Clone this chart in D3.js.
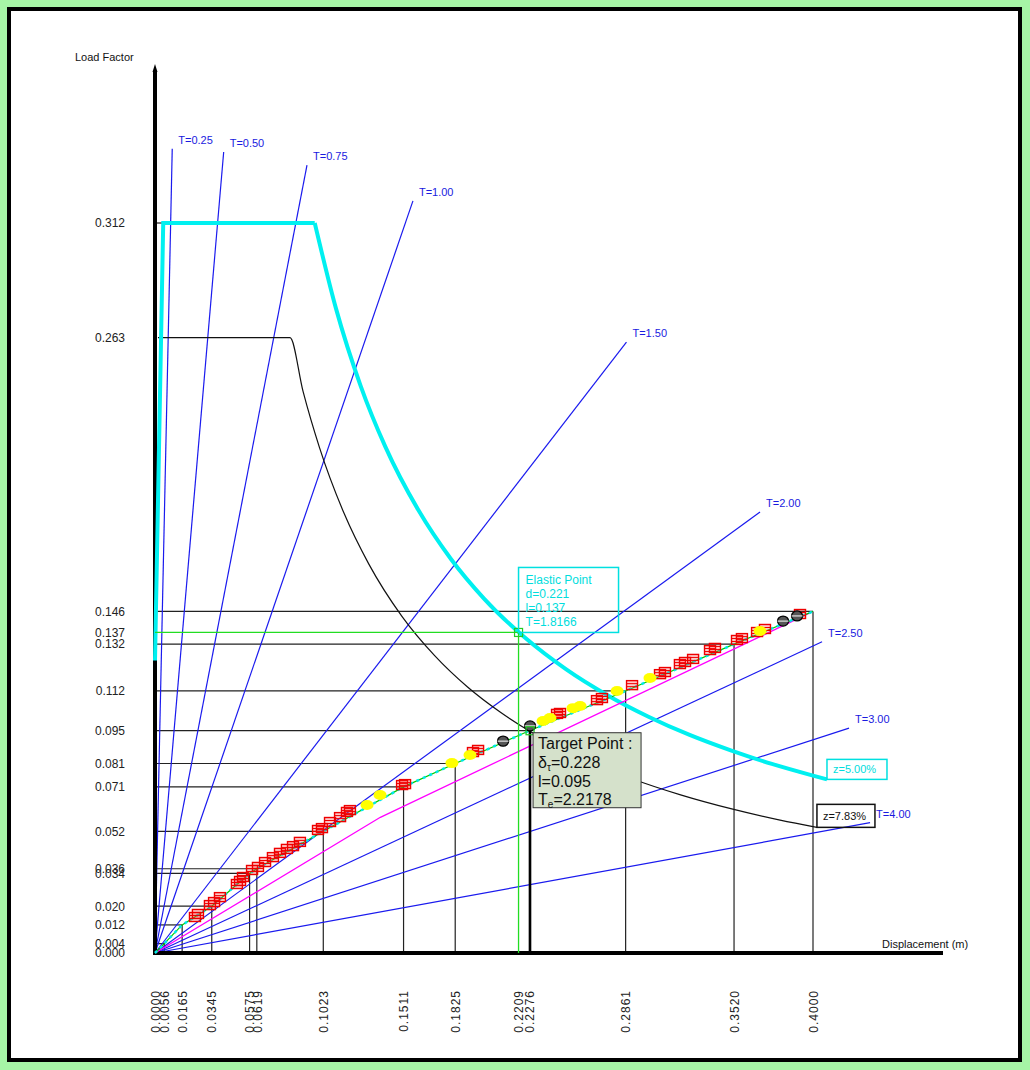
<!DOCTYPE html>
<html>
<head>
<meta charset="utf-8">
<script src="https://cdn.jsdelivr.net/npm/d3@7"></script>
<style>
  html, body { margin: 0; padding: 0; background: #a6f5a6; }
  svg { display: block; }
  text { font-family: "Liberation Sans", Arial, sans-serif; }
</style>
</head>
<body>
<svg id="chart" width="1030" height="1070"></svg>
<script>
// ---- Axis ticks -------------------------------------------------------
const xTicks = [0.0000, 0.0056, 0.0165, 0.0345, 0.0575, 0.0619, 0.1023, 0.1511, 0.1825, 0.2209, 0.2276, 0.2861, 0.3520, 0.4000];
const xTickLabels = ["0.0000", "0.0056", "0.0165", "0.0345", "0.0575", "0.0619", "0.1023", "0.1511", "0.1825", "0.2209", "0.2276", "0.2861", "0.3520", "0.4000"];
const yTicks = [0.000, 0.004, 0.012, 0.020, 0.034, 0.036, 0.052, 0.071, 0.081, 0.095, 0.112, 0.132, 0.137, 0.146, 0.263, 0.312];
const yTickLabels = ["0.000", "0.004", "0.012", "0.020", "0.034", "0.036", "0.052", "0.071", "0.081", "0.095", "0.112", "0.132", "0.137", "0.146", "0.263", "0.312"];

// ---- Capacity curve steps (displacement, load factor) -----------------
const stepD = [0.0056, 0.0165, 0.0345, 0.0575, 0.0619, 0.1023, 0.1511, 0.1825, 0.2276, 0.2861, 0.3520, 0.4000];
const stepL = [0.004, 0.012, 0.020, 0.034, 0.036, 0.052, 0.071, 0.081, 0.095, 0.112, 0.132, 0.146];
const capD = [0, 0.0056, 0.0165, 0.0345, 0.0575, 0.0619, 0.1023, 0.1511, 0.1825, 0.2276, 0.2861, 0.3520, 0.4000];
const capL = [0, 0.004, 0.012, 0.020, 0.034, 0.036, 0.052, 0.071, 0.081, 0.095, 0.112, 0.132, 0.146];

// Bilinear idealisation of the capacity curve
const bilinD = [0, 0.137, 0.400];
const bilinL = [0, 0.058, 0.146];

// ---- Step markers along the capacity curve ----------------------------
const sqD = [0.0243, 0.0261, 0.0334, 0.0359, 0.0395, 0.0498, 0.0517, 0.0535, 0.0590, 0.0626, 0.0669, 0.0717, 0.0760, 0.0802, 0.0839, 0.0881, 0.0991, 0.1015, 0.1064, 0.1125, 0.1167, 0.1185, 0.1502, 0.1520, 0.1933, 0.1964, 0.2444, 0.2462, 0.2687, 0.2717, 0.2900, 0.3070, 0.3100, 0.3191, 0.3222, 0.3271, 0.3374, 0.3404, 0.3538, 0.3568, 0.3660, 0.3708, 0.3921];
const sqL = [0.0141, 0.0154, 0.0192, 0.0205, 0.0226, 0.0282, 0.0295, 0.0312, 0.0342, 0.0355, 0.0376, 0.0397, 0.0415, 0.0432, 0.0444, 0.0462, 0.0513, 0.0521, 0.0547, 0.0568, 0.0590, 0.0598, 0.0705, 0.0709, 0.0846, 0.0855, 0.1009, 0.1013, 0.1068, 0.1077, 0.1132, 0.1179, 0.1188, 0.1222, 0.1231, 0.1244, 0.1282, 0.1291, 0.1325, 0.1333, 0.1359, 0.1372, 0.1436];
const ylD = [0.1289, 0.1368, 0.1805, 0.1915, 0.2359, 0.2401, 0.2541, 0.2584, 0.2809, 0.3009, 0.3678];
const ylL = [0.0624, 0.0667, 0.0803, 0.0838, 0.0983, 0.0996, 0.1038, 0.1047, 0.1111, 0.1167, 0.1368];
const bkD = [0.2116, 0.2280, 0.3818, 0.3903];
const bkL = [0.0897, 0.0962, 0.1410, 0.1432];

// ---- Demand spectra (ADRS) --------------------------------------------
const spec5D = [0, 0.0050, 0.0971, 0.110, 0.125, 0.140, 0.160, 0.180, 0.200, 0.225, 0.250, 0.275, 0.300, 0.325, 0.350, 0.375, 0.400, 0.4085];
const spec5L = [0.125, 0.312, 0.312, 0.2755, 0.2424, 0.2164, 0.1894, 0.1683, 0.1515, 0.1347, 0.1212, 0.1102, 0.1010, 0.0932, 0.0866, 0.0808, 0.0758, 0.0742];
const spec783D = [0.0018, 0.0821, 0.090, 0.100, 0.115, 0.130, 0.150, 0.170, 0.190, 0.210, 0.230, 0.260, 0.290, 0.320, 0.350, 0.380, 0.4024];
const spec783L = [0.263, 0.263, 0.240, 0.216, 0.1878, 0.1662, 0.1440, 0.1271, 0.1137, 0.1029, 0.0939, 0.0831, 0.0745, 0.0675, 0.0617, 0.0568, 0.0537];

// ---- Constant-period radial lines -------------------------------------
const periods = [0.25, 0.50, 0.75, 1.00, 1.50, 2.00, 2.50, 3.00, 4.00];
const periodLabels = ["T=0.25", "T=0.50", "T=0.75", "T=1.00", "T=1.50", "T=2.00", "T=2.50", "T=3.00", "T=4.00"];
const periodEndD = [0.01048, 0.04175, 0.0924, 0.1568, 0.2866, 0.3678, 0.4055, 0.4219, 0.4347];
const periodFactor = 2.05;   // load factor = periodFactor * d / T^2

// ---- Performance points -----------------------------------------------
const elastic = { d: 0.221, l: 0.137, T: 1.8166 };
const target = { d: 0.228, l: 0.095, T: 2.2178 };

// ---- Scales ----------------------------------------------------------
const x = d3.scaleLinear().domain([0, 0.4]).range([155, 813]);
const y = d3.scaleLinear().domain([0, 0.312]).range([953, 223]);

const svg = d3.select("#chart");

// Frame
svg.append("rect").attr("x", 0).attr("y", 0).attr("width", 1030).attr("height", 1070).attr("fill", "#a6f5a6");
svg.append("rect").attr("x", 9).attr("y", 9).attr("width", 1011).attr("height", 1051)
  .attr("fill", "#ffffff").attr("stroke", "#000").attr("stroke-width", 4);

const g = svg.append("g");

// Step guide lines (horizontal from the load axis, vertical from the displacement axis)
const steps = stepD.map((d, i) => ({ d, l: stepL[i] }));
g.selectAll("line.h").data(steps).join("line").attr("class", "h")
  .attr("x1", x(0)).attr("x2", p => x(p.d)).attr("y1", p => y(p.l)).attr("y2", p => y(p.l))
  .attr("stroke", "#222").attr("stroke-width", 1.2);
g.selectAll("line.v").data(steps).join("line").attr("class", "v")
  .attr("x1", p => x(p.d)).attr("x2", p => x(p.d)).attr("y1", y(0)).attr("y2", p => y(p.l))
  .attr("stroke", "#222").attr("stroke-width", 1.2);
// short tick to the plateau of the 5% spectrum
g.append("line").attr("x1", x(0)).attr("x2", x(spec5D[1])).attr("y1", y(0.312)).attr("y2", y(0.312))
  .attr("stroke", "#222").attr("stroke-width", 1.2);

// Period lines
const pl = periods.map((T, i) => ({ T, label: periodLabels[i], d: periodEndD[i], l: periodFactor * periodEndD[i] / (T * T) }));
g.selectAll("line.per").data(pl).join("line").attr("class", "per")
  .attr("x1", x(0)).attr("y1", y(0)).attr("x2", p => x(p.d)).attr("y2", p => y(p.l))
  .attr("stroke", "#1a1aee").attr("stroke-width", 1.2);
g.selectAll("text.per").data(pl).join("text").attr("class", "per")
  .attr("x", p => x(p.d) + 6).attr("y", p => y(p.l) - 5)
  .attr("font-size", 11).attr("fill", "#1a1ae0").text(p => p.label);

// Axes
const yAxis = d3.axisLeft(y).tickValues(yTicks).tickFormat((v, i) => yTickLabels[i]).tickSize(0).tickPadding(30);
const ya = g.append("g").attr("transform", `translate(${x(0)},0)`).call(yAxis);
ya.select(".domain").remove();
ya.selectAll("text").attr("font-size", 12).attr("fill", "#222").attr("font-family", "Liberation Sans, Arial, sans-serif");

const xAxis = d3.axisBottom(x).tickValues(xTicks).tickFormat((v, i) => xTickLabels[i]).tickSize(0);
const xa = g.append("g").attr("transform", `translate(0,${y(0)})`).call(xAxis);
xa.select(".domain").remove();
xa.selectAll("text")
  .attr("transform", "rotate(-90)")
  .attr("x", -37).attr("y", 0).attr("dy", "0.35em")
  .attr("text-anchor", "end")
  .attr("font-size", 12).attr("letter-spacing", 1).attr("fill", "#222")
  .attr("font-family", "Liberation Sans, Arial, sans-serif");

// axis lines
g.append("line").attr("x1", x(0)).attr("x2", x(0)).attr("y1", y(0) + 2).attr("y2", 70)
  .attr("stroke", "#000").attr("stroke-width", 4);
g.append("path").attr("d", `M${x(0) - 2.5},72 L${x(0)},64 L${x(0) + 2.5},72 Z`).attr("fill", "#000");
g.append("line").attr("x1", x(0) - 2).attr("x2", 943).attr("y1", y(0)).attr("y2", y(0))
  .attr("stroke", "#000").attr("stroke-width", 4);

g.append("text").attr("x", 75).attr("y", 61).attr("font-size", 11).attr("fill", "#111").text("Load Factor");
g.append("text").attr("x", 882).attr("y", 948).attr("font-size", 11).attr("fill", "#111").text("Displacement (m)");

// Demand spectra
const line = d3.line().x(p => x(p[0])).y(p => y(p[1]));
const smooth = d3.line().x(p => x(p[0])).y(p => y(p[1])).curve(d3.curveMonotoneX);
g.append("path").datum(spec783D.map((d, i) => [d, spec783L[i]]))
  .attr("d", smooth).attr("fill", "none").attr("stroke", "#111").attr("stroke-width", 1.2);
g.append("path").datum(spec5D.slice(0, 3).map((d, i) => [d, spec5L[i]]))
  .attr("d", line).attr("fill", "none").attr("stroke", "#00f0f0").attr("stroke-width", 4);
g.append("path").datum(spec5D.slice(2).map((d, i) => [d, spec5L[i + 2]]))
  .attr("d", smooth).attr("fill", "none").attr("stroke", "#00f0f0").attr("stroke-width", 4);

// Bilinear idealisation
g.append("path").datum(bilinD.map((d, i) => [d, bilinL[i]]))
  .attr("d", line).attr("fill", "none").attr("stroke", "#ff00ff").attr("stroke-width", 1.3);

// Capacity curve
const capPts = capD.map((d, i) => [d, capL[i]]);
g.append("path").datum(capPts).attr("d", line).attr("fill", "none").attr("stroke", "#00cc00").attr("stroke-width", 1.2);
g.append("path").datum(capPts).attr("d", line).attr("fill", "none").attr("stroke", "#00e8e8")
  .attr("stroke-width", 2.5).attr("stroke-dasharray", "3,4");

// Elastic point guides
g.append("line").attr("x1", x(0)).attr("x2", x(elastic.d)).attr("y1", y(elastic.l)).attr("y2", y(elastic.l))
  .attr("stroke", "#22dd22").attr("stroke-width", 1.3);
g.append("line").attr("x1", x(elastic.d)).attr("x2", x(elastic.d)).attr("y1", y(0)).attr("y2", y(elastic.l))
  .attr("stroke", "#22dd22").attr("stroke-width", 1.3);

// Target point guide
g.append("line").attr("x1", x(target.d)).attr("x2", x(target.d)).attr("y1", y(0)).attr("y2", y(target.l))
  .attr("stroke", "#000").attr("stroke-width", 2.5);

// Markers: squares
const sq = sqD.map((d, i) => [d, sqL[i]]);
const sqG = g.selectAll("g.sq").data(sq).join("g").attr("class", "sq")
  .attr("transform", p => `translate(${x(p[0])},${y(p[1])})`);
sqG.append("rect").attr("x", -5.5).attr("y", -7.5).attr("width", 11).attr("height", 9)
  .attr("fill", "rgba(255,40,40,0.25)").attr("stroke", "#ee0000").attr("stroke-width", 1.4);
sqG.append("path").attr("d", "M-5.5,-4.5 H5.5 M-5.5,-1.5 H5.5").attr("stroke", "#ee0000").attr("stroke-width", 1);

// Markers: yellow circles
const yl = ylD.map((d, i) => [d, ylL[i]]);
g.selectAll("ellipse.yl").data(yl).join("ellipse").attr("class", "yl")
  .attr("cx", p => x(p[0])).attr("cy", p => y(p[1]) - 2).attr("rx", 6.5).attr("ry", 5)
  .attr("fill", "#ffff00");

// Markers: black circles
const bk = bkD.map((d, i) => [d, bkL[i]]);
const bkG = g.selectAll("g.bk").data(bk).join("g").attr("class", "bk")
  .attr("transform", p => `translate(${x(p[0])},${y(p[1]) - 2})`);
bkG.append("ellipse").attr("rx", 5.5).attr("ry", 5).attr("fill", "#555").attr("stroke", "#000").attr("stroke-width", 1.3);
bkG.append("path").attr("d", "M-5.5,0 H5.5").attr("stroke", "#fff").attr("stroke-width", 1);

// Point symbols
g.append("rect").attr("x", x(elastic.d) - 4).attr("y", y(elastic.l) - 4).attr("width", 8).attr("height", 8)
  .attr("fill", "none").attr("stroke", "#22cc22").attr("stroke-width", 1.2);
g.append("rect").attr("x", x(target.d) - 4).attr("y", y(target.l) - 4).attr("width", 8).attr("height", 8)
  .attr("fill", "none").attr("stroke", "#22cc22").attr("stroke-width", 1.2);

// Elastic point box
const eb = g.append("g").attr("transform", `translate(${x(elastic.d)},${y(elastic.l)})`);
eb.append("rect").attr("x", 0).attr("y", -65).attr("width", 100).attr("height", 65)
  .attr("fill", "none").attr("stroke", "#00e0e0").attr("stroke-width", 1.5);
["Elastic Point", `d=${elastic.d.toFixed(3)}`, `l=${elastic.l.toFixed(3)}`, `T=${elastic.T.toFixed(4)}`].forEach((t, i) => {
  eb.append("text").attr("x", 7).attr("y", -48 + i * 14).attr("font-size", 12).attr("fill", "#00dddd").text(t);
});

// Target point box
const tb = g.append("g").attr("transform", `translate(${x(target.d) + 3},${y(target.l) + 2})`);
tb.append("rect").attr("x", 0).attr("y", 0).attr("width", 108).attr("height", 75)
  .attr("fill", "#d5e1cb").attr("stroke", "#333").attr("stroke-width", 1);
const tf = "Liberation Serif, Times New Roman, serif";
tb.append("text").attr("x", 5).attr("y", 16).attr("font-size", 16).attr("font-family", tf).attr("fill", "#111").text("Target Point :");
const t2 = tb.append("text").attr("x", 5).attr("y", 35).attr("font-size", 16).attr("font-family", tf).attr("fill", "#111");
t2.append("tspan").text("δ");
t2.append("tspan").attr("font-size", 10).attr("dy", 3).text("τ");
t2.append("tspan").attr("dy", -3).text(`=${target.d.toFixed(3)}`);
tb.append("text").attr("x", 5).attr("y", 54).attr("font-size", 16).attr("font-family", tf).attr("fill", "#111").text(`l=${target.l.toFixed(3)}`);
const t4 = tb.append("text").attr("x", 5).attr("y", 72).attr("font-size", 16).attr("font-family", tf).attr("fill", "#111");
t4.append("tspan").text("T");
t4.append("tspan").attr("font-size", 10).attr("dy", 3).text("e");
t4.append("tspan").attr("dy", -3).text(`=${target.T.toFixed(4)}`);

// Damping labels at the spectrum ends
const e5 = [spec5D[spec5D.length - 1], spec5L[spec5L.length - 1]];
const z5 = g.append("g").attr("transform", `translate(${x(e5[0])},${y(e5[1])})`);
z5.append("rect").attr("x", 0).attr("y", -20).attr("width", 60).attr("height", 20)
  .attr("fill", "none").attr("stroke", "#00e0e0").attr("stroke-width", 1.5);
z5.append("text").attr("x", 6).attr("y", -6).attr("font-size", 11).attr("fill", "#00dddd").text("z=5.00%");

const e7 = [spec783D[spec783D.length - 1], spec783L[spec783L.length - 1]];
const z7 = g.append("g").attr("transform", `translate(${x(e7[0])},${y(e7[1])})`);
z7.append("rect").attr("x", 0).attr("y", -23).attr("width", 58).attr("height", 23)
  .attr("fill", "none").attr("stroke", "#111").attr("stroke-width", 1.5);
z7.append("text").attr("x", 6).attr("y", -7).attr("font-size", 11).attr("fill", "#111").text("z=7.83%");
</script>
</body>
</html>
